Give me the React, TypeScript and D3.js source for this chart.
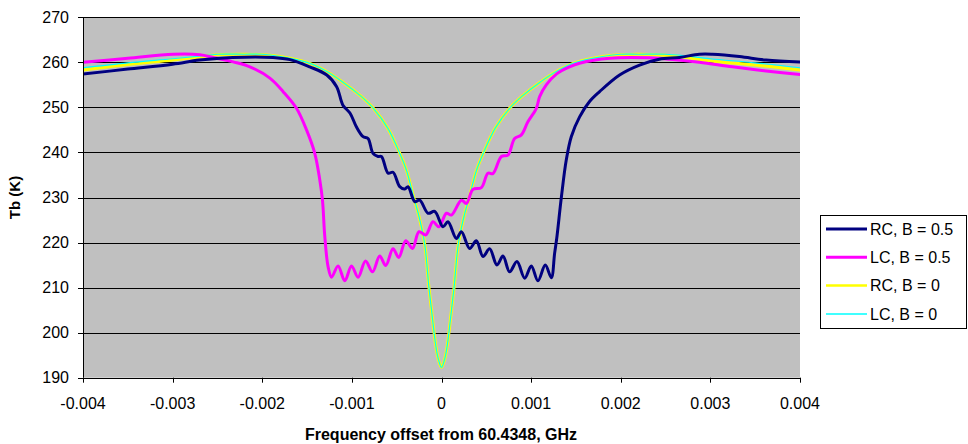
import React from "react";
import * as d3 from "d3";

const W = 968;
const H = 444;

const xTicks = [-0.004, -0.003, -0.002, -0.001, 0, 0.001, 0.002, 0.003, 0.004];
const xTickLabels = ["-0.004", "-0.003", "-0.002", "-0.001", "0", "0.001", "0.002", "0.003", "0.004"];
const yTicks = [190, 200, 210, 220, 230, 240, 250, 260, 270];

const seriesNames = ["RC, B = 0.5", "LC, B = 0.5", "RC, B = 0", "LC, B = 0"];
const seriesColors = ["#000080", "#FF00FF", "#FFFF00", "#00FFFF"];

// x in units of 1e-3 (scaled below)
const rcB05X = [-4.0, -3.5, -3.0, -2.7, -2.33, -1.88, -1.69, -1.47, -1.28, -1.17, -1.1, -1.02, -0.95, -0.875, -0.82, -0.764, -0.708, -0.67, -0.596, -0.541, -0.466, -0.41, -0.373, -0.299, -0.243, -0.15, -0.076, 0.017, 0.072, 0.166, 0.222, 0.314, 0.389, 0.463, 0.537, 0.619, 0.686, 0.76, 0.842, 0.928, 1.002, 1.076, 1.158, 1.225, 1.262, 1.288, 1.337, 1.392, 1.448, 1.541, 1.652, 1.764, 1.987, 2.21, 2.43, 2.655, 2.878, 3.023, 3.324, 3.622, 4.0];
const rcB05Y = [257.4, 258.5, 259.6, 260.5, 261.1, 261.1, 260.6, 259.0, 257.2, 254.6, 250.5, 248.7, 245.7, 243.5, 243.1, 239.8, 239.1, 239.1, 235.4, 235.6, 232.4, 231.9, 232.4, 229.1, 229.4, 226.5, 226.9, 223.5, 224.6, 220.9, 222.4, 218.7, 220.4, 216.9, 218.6, 215.0, 217.0, 213.5, 215.8, 212.1, 214.8, 211.5, 215.0, 212.2, 217.6, 221.3, 230.0, 238.3, 243.5, 247.9, 251.3, 253.5, 257.2, 259.4, 260.7, 261.1, 261.8, 261.8, 261.3, 260.5, 260.1];

const lcB05X = [-4.0, -3.5, -2.993, -2.696, -2.547, -2.324, -2.138, -1.915, -1.767, -1.618, -1.506, -1.414, -1.358, -1.328, -1.302, -1.265, -1.227, -1.154, -1.079, -1.004, -0.931, -0.848, -0.77, -0.689, -0.622, -0.541, -0.477, -0.399, -0.324, -0.251, -0.176, -0.095, -0.028, 0.055, 0.11, 0.222, 0.278, 0.351, 0.445, 0.518, 0.574, 0.668, 0.741, 0.816, 0.891, 0.964, 1.058, 1.095, 1.169, 1.281, 1.429, 1.541, 1.875, 2.321, 2.544, 2.878, 3.246, 3.622, 4.0];
const lcB05Y = [260.0, 260.9, 261.8, 261.7, 261.1, 260.1, 259.0, 256.5, 253.5, 249.8, 245.0, 239.8, 233.9, 229.4, 221.3, 214.6, 212.3, 214.8, 211.5, 214.8, 212.3, 215.9, 213.5, 217.0, 214.9, 218.6, 216.7, 220.4, 218.7, 222.4, 221.7, 224.6, 223.5, 226.5, 226.1, 229.4, 228.7, 231.8, 232.2, 235.4, 235.3, 239.1, 239.4, 243.1, 243.9, 246.8, 249.8, 252.4, 255.0, 257.4, 259.0, 259.8, 260.9, 261.0, 260.7, 260.0, 259.0, 258.1, 257.3];

const b0X = [-4.0, -3.5, -3.0, -2.7, -2.5, -2.2, -2.0, -1.8, -1.5, -1.3, -1.1, -0.9, -0.76, -0.6, -0.47, -0.39, -0.31, -0.26, -0.19, -0.14, -0.1, -0.07, -0.04, 0, 0.04, 0.07, 0.1, 0.14, 0.19, 0.26, 0.31, 0.39, 0.47, 0.6, 0.76, 0.9, 1.1, 1.3, 1.5, 1.8, 2.0, 2.2, 2.5, 2.7, 3.0, 3.5, 4.0];
const rcB0Y = [258.3, 259.5, 260.5, 261.2, 261.7, 261.8, 261.7, 261.3, 260.0, 258.2, 255.6, 252.5, 249.8, 245.4, 240.0, 236.0, 230.0, 226.5, 220.0, 210.0, 203.0, 198.0, 194.5, 192.3, 194.5, 198.0, 203.0, 210.0, 220.0, 226.5, 230.0, 236.0, 240.0, 245.4, 249.8, 252.5, 255.6, 258.2, 260.0, 261.3, 261.7, 261.8, 261.6, 261.2, 260.3, 259.4, 258.3];
const lcB0Y = [258.8, 259.9, 260.8, 261.4, 261.8, 261.8, 261.8, 261.3, 260.0, 258.2, 255.6, 252.5, 249.8, 245.4, 240.0, 236.0, 230.0, 226.5, 220.0, 210.0, 203.0, 198.0, 194.5, 192.3, 194.5, 198.0, 203.0, 210.0, 220.0, 226.5, 230.0, 236.0, 240.0, 245.4, 249.8, 252.5, 255.6, 258.2, 260.0, 261.3, 261.8, 261.8, 261.8, 261.5, 260.8, 259.9, 258.8];

const L = 83, R = 800, T = 17.3, B = 377.7;

export default function App() {
  const x = d3.scaleLinear().domain([-0.004, 0.004]).range([L, R]);
  const y = d3.scaleLinear().domain([190, 270]).range([B, T]);
  const line = d3
    .line<[number, number]>()
    .x((d) => x(d[0] * 1e-3))
    .y((d) => y(d[1]))
    .curve(d3.curveCatmullRom.alpha(0.5));

  const mk = (xs: number[], ys: number[]) => xs.map((v, i) => [v, ys[i]] as [number, number]);
  const navy = line(mk(rcB05X, rcB05Y)) || "";
  const mag = line(mk(lcB05X, lcB05Y)) || "";
  const yel = line(mk(b0X, rcB0Y)) || "";
  const cyn = line(mk(b0X, lcB0Y)) || "";

  const font = "'Liberation Sans', Arial, sans-serif";
  const legTop = 215;
  const rowH = 28.3;

  return (
    <svg width={W} height={H} style={{ position: "absolute", left: 0, top: 0, background: "#fff" }} fontFamily={font}>
      <rect x={L} y={T} width={R - L} height={B - T} fill="#C0C0C0" />
      {yTicks.map((t) => (
        <line key={"g" + t} x1={L} x2={R} y1={Math.round(y(t)) + 0.5} y2={Math.round(y(t)) + 0.5} stroke="#000" strokeWidth={1} />
      ))}
      <defs>
        <clipPath id="plotclip">
          <rect x={L} y={T - 2} width={R - L} height={B - T + 4} />
        </clipPath>
      </defs>
      <g clipPath="url(#plotclip)" fill="none" strokeLinejoin="round" strokeLinecap="round">
        <path d={yel} stroke={seriesColors[2]} strokeWidth={3} />
        <path d={cyn} stroke={seriesColors[3]} strokeWidth={1.2} />
        <path d={mag} stroke={seriesColors[1]} strokeWidth={3} />
        <path d={navy} stroke={seriesColors[0]} strokeWidth={3} />
      </g>
      {/* axes */}
      <line x1={L + 0.5} x2={L + 0.5} y1={T} y2={B} stroke="#000" />
      <line x1={L - 5} x2={R} y1={Math.round(B) + 0.5} y2={Math.round(B) + 0.5} stroke="#000" />
      {yTicks.map((t) => (
        <g key={"yt" + t}>
          <line x1={L - 5} x2={L} y1={Math.round(y(t)) + 0.5} y2={Math.round(y(t)) + 0.5} stroke="#000" />
          <text x={69} y={y(t)} dy="0.35em" textAnchor="end" fontSize={16}>
            {t}
          </text>
        </g>
      ))}
      {xTicks.map((t, i) => (
        <g key={"xt" + t}>
          <line x1={Math.round(x(t)) + 0.5} x2={Math.round(x(t)) + 0.5} y1={B} y2={B + 5} stroke="#000" />
          <text x={x(t)} y={409} textAnchor="middle" fontSize={16}>
            {xTickLabels[i]}
          </text>
        </g>
      ))}
      <text x={441} y={440} textAnchor="middle" fontSize={16} fontWeight="bold">
        Frequency offset from 60.4348, GHz
      </text>
      <text transform={`translate(20,${(T + B) / 2}) rotate(-90)`} textAnchor="middle" fontSize={15} fontWeight="bold">
        Tb (K)
      </text>
      {/* legend */}
      <rect x={820.5} y={legTop + 0.5} width={146} height={113} fill="#fff" stroke="#000" />
      {seriesNames.map((n, i) => {
        const cy = legTop + 14 + i * rowH;
        return (
          <g key={n}>
            {i === 3 ? (
              <line x1={826} x2={867} y1={cy} y2={cy} stroke={seriesColors[3]} strokeWidth={1.5} />
            ) : (
              <line x1={826} x2={867} y1={cy} y2={cy} stroke={seriesColors[i]} strokeWidth={i < 2 ? 3 : 2.5} />
            )}
            <text x={870} y={cy} dy="0.35em" fontSize={16}>
              {n}
            </text>
          </g>
        );
      })}
    </svg>
  );
}
